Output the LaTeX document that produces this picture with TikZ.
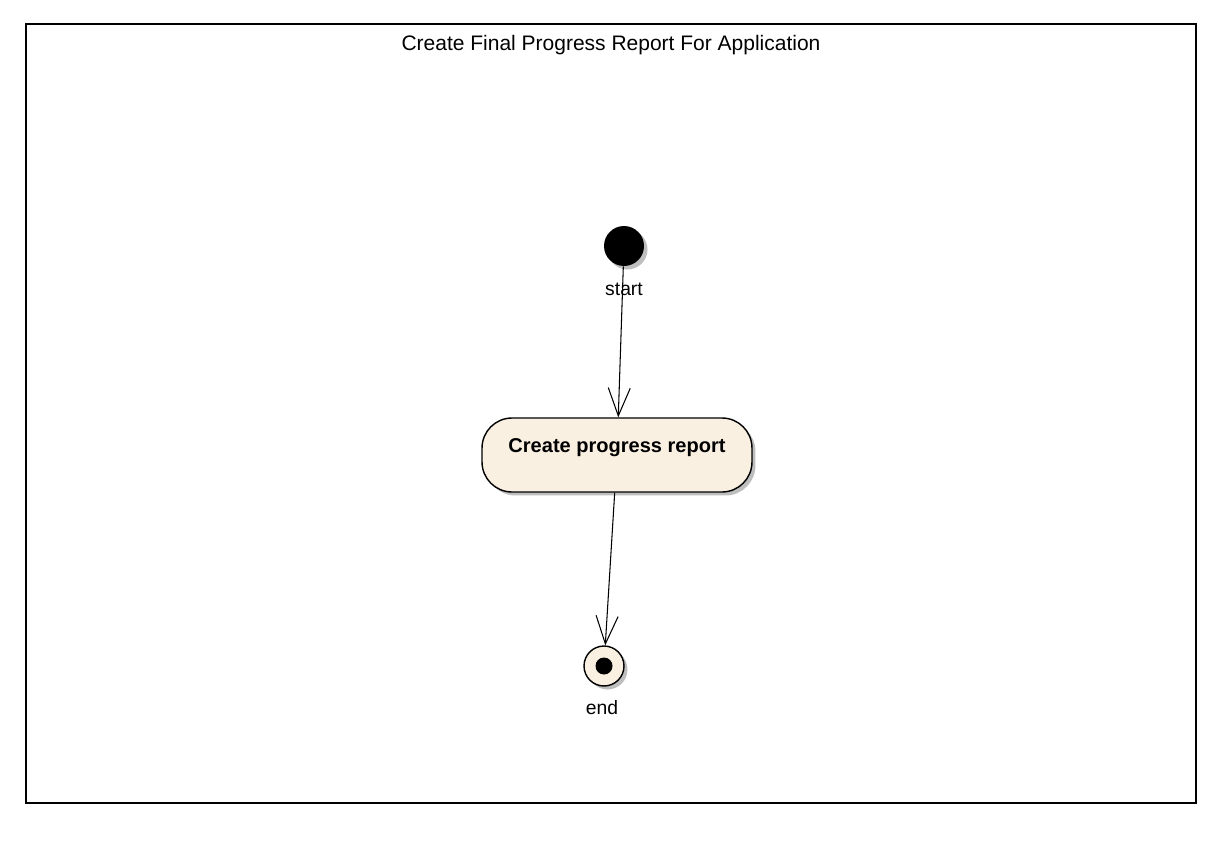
\documentclass[tikz,border=0pt]{standalone}
\usepackage{fontspec}
\setmainfont{Liberation Sans}
\usetikzlibrary{arrows.meta,shadows}
\definecolor{C}{RGB}{250, 240, 226}
\definecolor{S}{RGB}{190, 190, 190}

\begin{document}
\begin{tikzpicture}[x=0.02cm,y=-0.02cm,
    sombra/.style={drop shadow={shadow xshift=0.07cm,shadow yshift=-0.07cm,fill=S,opacity=1}},
    texto/.style={font=\fontsize{11}{13}\selectfont,inner sep=0pt},
    flecha/.style={line width=0.6pt,-{Straight Barb[length=0.56cm,width=0.44cm]}}]
   	\useasboundingbox (0,0) rectangle (1227,851);

	%Marco y titulo
   	\draw[line width=0.8pt] (26,24) rectangle (1196,803);
   	\node[texto,font=\fontsize{11.95}{13}\selectfont] (titulo) at (611,45) {Create Final Progress Report For Application};

	%Estado inicial
   	\node[circle,fill=black,minimum size=0.8cm,inner sep=0pt,sombra] (inicio) at (624,246) {};
   	\node[texto] (etqinicio) at (624,289) {start};

	%Actividad
   	\node[rectangle,rounded corners=0.6cm,draw,line width=0.8pt,fill=C,sombra,
   	      minimum width=5.4cm,inner ysep=0pt,text height=0.68cm,text depth=0.8cm,
   	      font=\bfseries\fontsize{11.4}{13}\selectfont] (actividad) at (617,455) {Create progress report};

	%Estado final
   	\node[circle,draw,line width=0.8pt,fill=C,minimum size=0.8cm,inner sep=0pt,sombra,
   	      path picture={\fill[black] (path picture bounding box.center) circle (0.17cm);}] (fin) at (604,666) {};
   	\node[texto] (etqfin) at (602,708) {end};

	%Transiciones
   	\draw[flecha] (inicio) -- (actividad);
   	\draw[flecha] (actividad) -- (fin);
\end{tikzpicture}
\end{document}
